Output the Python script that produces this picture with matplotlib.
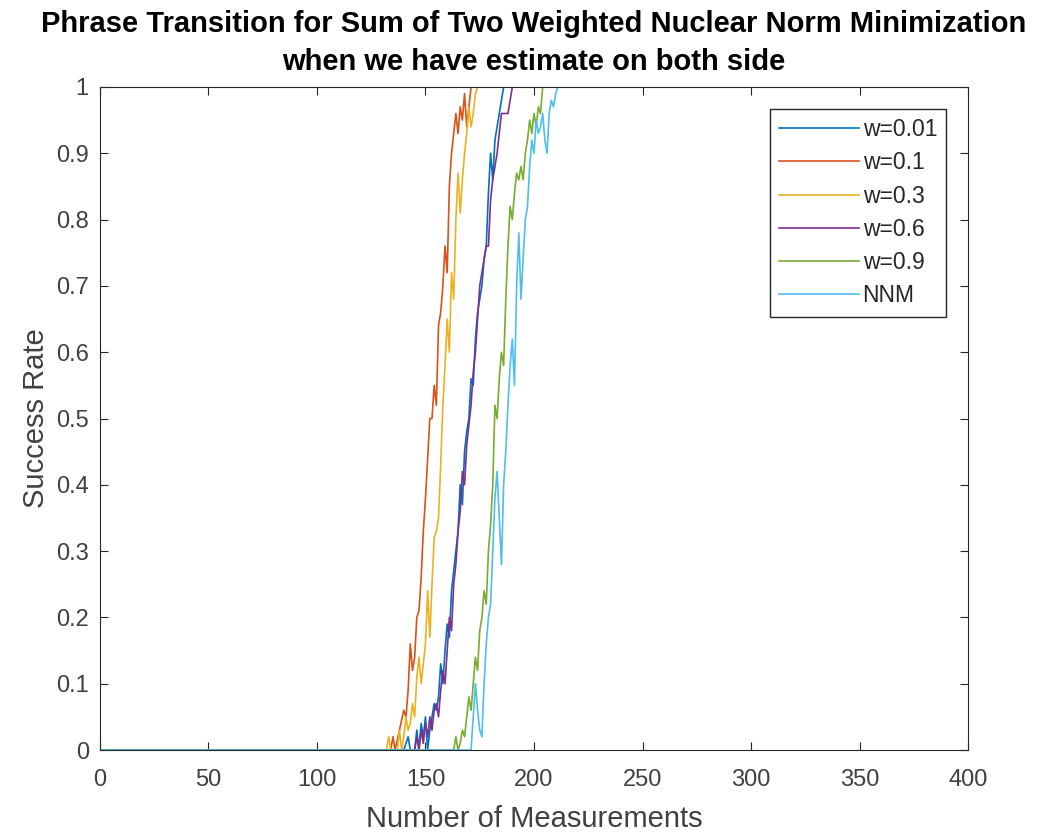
import matplotlib.pyplot as plt
import numpy as np

plt.rcParams['font.family'] = ['Liberation Sans', 'DejaVu Sans']

# success rate vs number of measurements (only the transition zone, 0 before, 1 after)
x_w001 = [140, 142, 143, 145, 146, 147, 148, 149, 150, 151, 152, 153, 154, 155, 156, 157, 158, 159, 160,
          161, 162, 163, 164, 165, 166, 167, 168, 169, 170, 171, 172, 173, 174, 175, 176, 177, 178, 179,
          180, 181, 182, 183, 184, 185, 186]
y_w001 = [0, 0.02, 0, 0, 0.03, 0, 0.04, 0.02, 0.05, 0, 0.03, 0.05, 0.07, 0.06, 0.08, 0.13, 0.10, 0.15, 0.19,
          0.17, 0.24, 0.27, 0.30, 0.33, 0.40, 0.37, 0.45, 0.48, 0.50, 0.56, 0.55, 0.62, 0.66, 0.68, 0.70, 0.74,
          0.76, 0.84, 0.90, 0.86, 0.92, 0.94, 0.96, 0.98, 1]

x_w01 = [130, 134, 135, 136, 138, 140, 141, 142, 143, 144, 145, 146, 147, 148, 149, 150, 151, 152, 153,
         154, 155, 156, 157, 158, 159, 160, 161, 162, 163, 164, 165, 166, 167, 168, 169, 170, 171]
y_w01 = [0, 0, 0.02, 0, 0.03, 0.06, 0.05, 0.09, 0.16, 0.12, 0.14, 0.20, 0.21, 0.26, 0.33, 0.38, 0.44, 0.50,
         0.50, 0.55, 0.52, 0.64, 0.66, 0.70, 0.76, 0.72, 0.85, 0.90, 0.93, 0.96, 0.93, 0.97, 0.95, 0.99,
         0.94, 0.97, 1]

x_w03 = [130, 132, 133, 134, 137, 138, 139, 140, 141, 142, 143, 144, 145, 146, 147, 148, 149, 150, 151,
         152, 153, 154, 155, 156, 157, 158, 159, 160, 161, 162, 163, 164, 165, 166, 167, 168, 169, 170,
         171, 172, 173, 174]
y_w03 = [0, 0, 0.02, 0, 0, 0.03, 0, 0.02, 0.05, 0.03, 0.04, 0.07, 0.05, 0.11, 0.14, 0.10, 0.13, 0.16, 0.24,
         0.17, 0.25, 0.32, 0.33, 0.35, 0.43, 0.52, 0.58, 0.65, 0.60, 0.72, 0.68, 0.80, 0.87, 0.81, 0.86,
         0.90, 0.93, 0.97, 0.94, 0.96, 0.99, 1]

x_w06 = [140, 145, 146, 147, 148, 149, 150, 151, 152, 153, 154, 155, 156, 157, 158, 159, 160, 161, 162,
         163, 164, 165, 166, 167, 168, 169, 170, 171, 172, 173, 174, 175, 176, 177, 178, 179, 180, 181,
         182, 183, 184, 185, 186, 187, 188, 189, 190]
y_w06 = [0, 0, 0.02, 0, 0.03, 0.01, 0.04, 0.02, 0.05, 0.03, 0.06, 0.07, 0.05, 0.09, 0.12, 0.10, 0.15, 0.20,
         0.18, 0.25, 0.28, 0.33, 0.36, 0.42, 0.40, 0.46, 0.49, 0.52, 0.57, 0.60, 0.65, 0.70, 0.72, 0.74,
         0.76, 0.76, 0.83, 0.86, 0.88, 0.90, 0.93, 0.96, 0.96, 0.96, 0.96, 0.98, 1]

x_w09 = [160, 163, 164, 165, 166, 167, 168, 169, 170, 171, 172, 173, 174, 175, 176, 177, 178, 179, 180,
         181, 182, 183, 184, 185, 186, 187, 188, 189, 190, 191, 192, 193, 194, 195, 196, 197, 198, 199,
         200, 201, 202, 203, 204]
y_w09 = [0, 0, 0.02, 0, 0.01, 0.03, 0.02, 0.05, 0.08, 0.06, 0.10, 0.14, 0.12, 0.18, 0.20, 0.24, 0.22, 0.30,
         0.34, 0.40, 0.52, 0.50, 0.56, 0.60, 0.58, 0.68, 0.76, 0.82, 0.80, 0.84, 0.87, 0.86, 0.88, 0.86,
         0.90, 0.92, 0.95, 0.93, 0.96, 0.94, 0.97, 0.96, 1]

x_nnm = [168, 171, 172, 173, 174, 175, 176, 177, 178, 179, 180, 181, 182, 183, 184, 185, 186, 187, 188,
         189, 190, 191, 192, 193, 194, 195, 196, 197, 198, 199, 200, 201, 202, 203, 204, 205, 206, 207,
         208, 209, 210, 211]
y_nnm = [0, 0, 0.05, 0.10, 0.06, 0.03, 0.02, 0.10, 0.16, 0.20, 0.22, 0.30, 0.38, 0.42, 0.35, 0.28, 0.40,
         0.45, 0.52, 0.58, 0.62, 0.55, 0.70, 0.78, 0.68, 0.74, 0.80, 0.82, 0.88, 0.92, 0.90, 0.95, 0.93,
         0.94, 0.96, 0.92, 0.90, 0.96, 0.98, 0.97, 0.99, 1]

series = [
    ("w=0.01", x_w001, y_w001, "#0072BD"),
    ("w=0.1", x_w01, y_w01, "#D95319"),
    ("w=0.3", x_w03, y_w03, "#EDB120"),
    ("w=0.6", x_w06, y_w06, "#7E2F8E"),
    ("w=0.9", x_w09, y_w09, "#77AC30"),
    ("NNM", x_nnm, y_nnm, "#4DBEEE"),
]

fig = plt.figure(figsize=(10.39, 8.34), dpi=100)
ax = fig.add_axes([0.0962, 0.1007, 0.8355, 0.795])

for name, xs, ys, col in series:
    xx = np.concatenate([[0], xs, [400]])
    yy = np.concatenate([[0], ys, [1]])
    ax.plot(xx, yy, color=col, lw=1.2, label=name)

ax.set_xlim(0, 400)
ax.set_ylim(0, 1)
ax.set_xticks(np.arange(0, 401, 50))
ax.set_yticks(np.arange(0, 1.01, 0.1))
ax.set_yticklabels(["0", "0.1", "0.2", "0.3", "0.4", "0.5", "0.6", "0.7", "0.8", "0.9", "1"])
ax.tick_params(direction='in', top=True, right=True, labelsize=17, colors='#262626',
               labelcolor='#404040', length=6)
ax.tick_params(axis='x', pad=14)
ax.tick_params(axis='y', pad=8)
for sp in ax.spines.values():
    sp.set_color('#262626')

ax.set_xlabel("Number of Measurements", fontsize=21, color='#404040', labelpad=10)
ax.set_ylabel("Success Rate", fontsize=21, color='#404040', labelpad=4)
ax.set_title("Phrase Transition for Sum of Two Weighted Nuclear Norm Minimization\n"
             "when we have estimate on both side", fontsize=21, fontweight='bold',
             pad=12, linespacing=1.45)

leg = ax.legend(loc='upper right', fontsize=16.5, fancybox=False, edgecolor='#262626',
                framealpha=1, handlelength=3.5, handletextpad=0.15, borderaxespad=0.95,
                labelspacing=0.45, borderpad=0.4)
leg.get_frame().set_linewidth(1.0)
for t in leg.get_texts():
    t.set_color('#262626')

fig.savefig("out.png", dpi=100)
